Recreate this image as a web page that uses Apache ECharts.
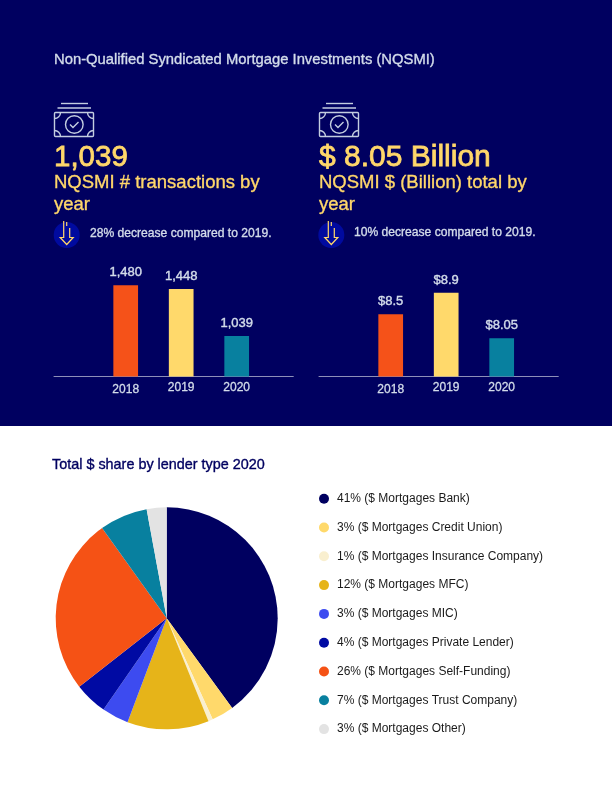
<!DOCTYPE html>
<html>
<head>
<meta charset="utf-8">
<title>NQSMI</title>
<script src="https://cdn.jsdelivr.net/npm/echarts@6/dist/echarts.min.js"></script>
<style>
  html, body { margin: 0; padding: 0; background: #fff; }
  #chart { width: 612px; height: 792px; }
</style>
</head>
<body>
<div id="chart"></div>
<script>
const years = [2018, 2019, 2020];
const transactions = [1480, 1448, 1039];
const dollarsBillion = [8.5, 8.9, 8.05];
const dollarLabels = ['$8.5', '$8.9', '$8.05'];

const lenders = ['Bank', 'Credit Union', 'Insurance Company', 'MFC', 'MIC', 'Private Lender', 'Self-Funding', 'Trust Company', 'Other'];
const shareLabels = [41, 3, 1, 12, 3, 4, 26, 7, 3];
const shareValues = [40, 3.25, 0.65, 11.9, 3.9, 4.8, 25.7, 7, 2.9];

const NAVY = '#000060';
const YELLOW = '#ffd76a';
const PALE = '#d3dcea';
const FONT = '"Liberation Sans", Arial, sans-serif';
const barColors = ['#f55219', '#ffd96b', '#08809f'];
const pieColors = ['#000060', '#ffd96b', '#f9efcf', '#e6b419', '#3d4bf0', '#000aa3', '#f55215', '#08809f', '#e3e3e3'];

// medium weight text, the font has no such weight so a thin stroke stands in
function text(x, y, str, size, color, stroke) {
  return {
    type: 'text', x: x, y: y, z: 5,
    style: {
      text: str, fill: color, font: size + 'px ' + FONT,
      textVerticalAlign: 'middle',
      stroke: color, lineWidth: stroke === undefined ? 0.35 : stroke
    }
  };
}

function moneyIcon(dx) {
  const s = { stroke: '#c3cde0', fill: 'none', lineWidth: 1.4 };
  const line = (x1, y1, x2, y2) => ({ type: 'line', z: 5, shape: { x1: x1 + dx, y1: y1, x2: x2 + dx, y2: y2 }, style: s });
  const arc = (cx, cy, a, b) => ({ type: 'arc', z: 5, shape: { cx: cx + dx, cy: cy, r: 6, startAngle: a, endAngle: b, clockwise: true }, style: s });
  return [
    line(61, 103.5, 88, 103.5),
    line(57.5, 108, 91, 108),
    { type: 'rect', z: 5, shape: { x: 54.5 + dx, y: 112.5, width: 39, height: 24, r: 1 }, style: s },
    { type: 'circle', z: 5, shape: { cx: 74.3 + dx, cy: 124.5, r: 8.8 }, style: s },
    { type: 'polyline', z: 5, shape: { points: [[70 + dx, 124.5], [73 + dx, 127.5], [78.5 + dx, 122]] }, style: s },
    arc(54.5, 112.5, 0, Math.PI / 2),
    arc(93.5, 112.5, Math.PI / 2, Math.PI),
    arc(54.5, 136.5, -Math.PI / 2, 0),
    arc(93.5, 136.5, Math.PI, Math.PI * 1.5)
  ];
}

function arrowIcon(cx) {
  const s = { stroke: YELLOW, fill: 'none', lineWidth: 1.2 };
  return [
    { type: 'circle', z: 4, shape: { cx: cx, cy: 235, r: 13 }, style: { fill: '#000a9f' } },
    { type: 'polyline', z: 5, shape: { points: [[cx - 3, 221], [cx - 3, 237.5], [cx - 6.5, 237.5], [cx, 244.5], [cx + 6.5, 237.5], [cx + 3, 237.5], [cx + 3, 228]] }, style: s },
    { type: 'line', z: 5, shape: { x1: cx, y1: 222, x2: cx, y2: 226 }, style: s }
  ];
}

function barSeries(index, values, labels) {
  return {
    type: 'bar', xAxisIndex: index, yAxisIndex: index,
    barWidth: 24.7,
    data: values.map((v, i) => ({ value: [years[i], v], itemStyle: { color: barColors[i] } })),
    label: {
      show: true, position: 'top', distance: 6,
      color: PALE, fontFamily: FONT, fontSize: 13,
      textBorderColor: PALE, textBorderWidth: 0.4,
      formatter: p => labels[p.dataIndex]
    }
  };
}

function xAxis(index, min, max) {
  return {
    type: 'value', gridIndex: index, min: min, max: max,
    splitLine: { show: false },
    axisTick: { show: false },
    axisLine: { show: true, onZero: false, lineStyle: { color: '#8d8fb8', width: 1 } },
    axisLabel: {
      color: PALE, fontFamily: FONT, fontSize: 12, margin: 5,
      textBorderColor: PALE, textBorderWidth: 0.3,
      customValues: years,
      formatter: v => v === 2018 ? '{low|' + v + '}' : String(v),
      rich: { low: { color: PALE, fontFamily: FONT, fontSize: 12, padding: [2, 0, 0, 0], textBorderColor: PALE, textBorderWidth: 0.3 } }
    }
  };
}

function yAxis(index, min, max) {
  return { type: 'value', gridIndex: index, min: min, max: max, show: false };
}

const chart = echarts.init(document.getElementById('chart'), null, { renderer: 'canvas' });

chart.setOption({
  animation: false,
  textStyle: { fontFamily: FONT },
  grid: [
    { left: 54, width: 239.3, top: 276.5, height: 100 },
    { left: 319, width: 239.3, top: 276.5, height: 100 }
  ],
  xAxis: [xAxis(0, 2016.708, 2021.02), xAxis(1, 2016.708, 2021.02)],
  yAxis: [yAxis(0, 688, 1557), yAxis(1, 7.341, 9.2)],
  series: [
    barSeries(0, transactions, transactions.map(v => v.toLocaleString('en-US'))),
    barSeries(1, dollarsBillion, dollarLabels),
    {
      type: 'pie', center: [166.7, 618.3], radius: [0, 111], startAngle: 90,
      label: { show: false }, labelLine: { show: false }, silent: true,
      data: lenders.map((name, i) => ({
        name: shareLabels[i] + '% ($ Mortgages ' + name + ')',
        value: shareValues[i],
        itemStyle: { color: pieColors[i] }
      }))
    }
  ],
  legend: {
    orient: 'vertical', left: 319, top: 492.7, padding: 0, icon: 'circle',
    itemWidth: 10, itemHeight: 10, itemGap: 16.8, selectedMode: false,
    textStyle: { color: '#1a1a1a', fontFamily: FONT, fontSize: 12, padding: [0, 0, 0, 3] }
  },
  graphic: [
    { type: 'rect', z: -1, shape: { x: 0, y: 0, width: 612, height: 426 }, style: { fill: NAVY } },
    text(54, 60, 'Non-Qualified Syndicated Mortgage Investments (NQSMI)', 14.8, PALE),
    ...moneyIcon(0), ...moneyIcon(265),
    text(54, 158, '1,039', 29.5, YELLOW, 0.8),
    text(54, 182.5, 'NQSMI # transactions by', 18.5, YELLOW),
    text(54, 204.5, 'year', 18.5, YELLOW),
    text(319, 158, '$ 8.05 Billion', 30, YELLOW, 0.8),
    text(319, 182.5, 'NQSMI $ (Billion) total by', 18.5, YELLOW),
    text(319, 204.5, 'year', 18.5, YELLOW),
    ...arrowIcon(66.7), ...arrowIcon(331.3),
    text(90, 234, '28% decrease compared to 2019.', 12.1, PALE),
    text(354, 233, '10% decrease compared to 2019.', 12.1, PALE),
    text(52, 465, 'Total $ share by lender type 2020', 14.4, NAVY)
  ]
});
</script>
</body>
</html>
